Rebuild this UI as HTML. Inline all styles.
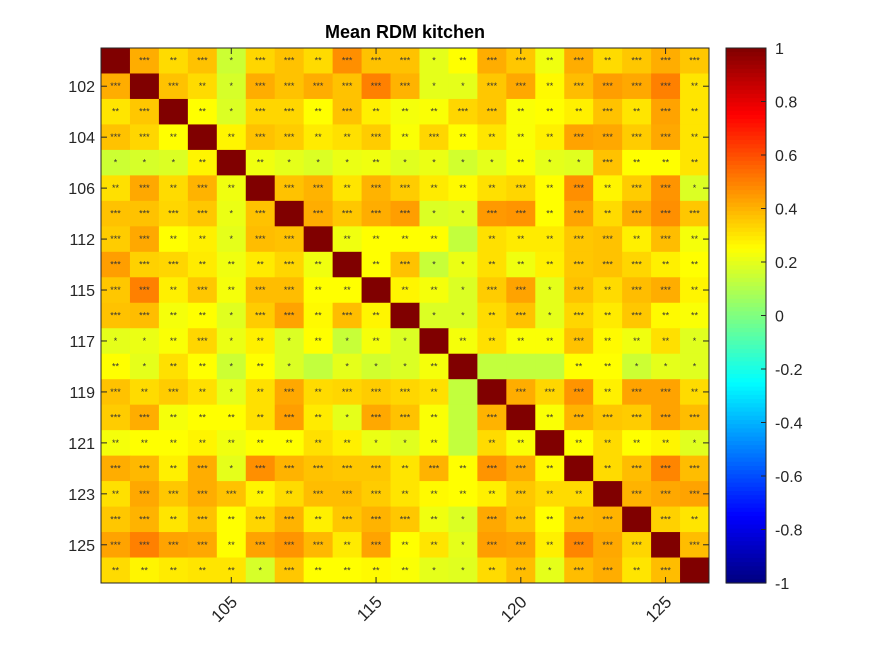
<!DOCTYPE html>
<html><head><meta charset="utf-8"><style>
body{margin:0;background:#fff;width:875px;height:656px;overflow:hidden}
svg{font-family:"Liberation Sans",sans-serif}
</style></head><body>
<svg id="c" width="875" height="656"></svg>
<script>
const labels=[101,102,103,104,105,106,107,112,113,115,116,117,118,119,120,121,122,123,124,125,126];
const yTickIdx=[1,3,5,7,9,11,13,15,17,19];
const xTickIdx=[4,9,14,19];
const cbTicks=[1,0.8,0.6,0.4,0.2,0,-0.2,-0.4,-0.6,-0.8,-1];
const r0=[1,.41,.32,.37,.15,.33,.37,.32,.47,.37,.37,.2,.25,.41,.36,.22,.41,.32,.36,.41,.36];
const r1=[.41,1,.37,.32,.17,.41,.37,.41,.37,.5,.4,.2,.2,.36,.42,.26,.38,.44,.42,.5,.3];
const r2=[.3,.36,1,.25,.18,.33,.33,.25,.37,.28,.23,.24,.33,.36,.24,.25,.28,.37,.3,.43,.3];
const r3=[.37,.33,.25,1,.27,.37,.35,.29,.31,.35,.24,.33,.25,.3,.24,.28,.43,.42,.35,.42,.3];
const r4=[.15,.17,.18,.27,1,.22,.2,.18,.21,.22,.19,.21,.16,.2,.24,.2,.19,.37,.25,.25,.3];
const r5=[.31,.42,.32,.4,.22,1,.37,.4,.3,.4,.35,.29,.26,.31,.33,.25,.47,.27,.35,.46,.18];
const r6=[.37,.37,.33,.36,.21,.37,1,.41,.36,.41,.44,.18,.19,.45,.46,.25,.43,.32,.41,.47,.36];
const r7=[.35,.42,.25,.28,.2,.38,.37,1,.22,.25,.25,.25,.13,.31,.29,.29,.36,.37,.28,.38,.23];
const r8=[.44,.34,.33,.29,.22,.29,.33,.22,1,.25,.37,.14,.21,.31,.22,.28,.36,.37,.33,.28,.25];
const r9=[.36,.5,.28,.36,.23,.38,.38,.25,.25,1,.27,.23,.18,.35,.43,.2,.37,.32,.38,.41,.27];
const r10=[.37,.38,.23,.25,.19,.35,.43,.26,.38,.27,1,.18,.18,.32,.37,.2,.33,.29,.36,.26,.24];
const r11=[.2,.21,.24,.33,.21,.28,.18,.25,.14,.23,.18,1,.23,.31,.24,.24,.37,.26,.22,.31,.19];
const r12=[.25,.2,.31,.25,.15,.25,.18,.13,.2,.16,.18,.23,1,.13,.13,.13,.25,.25,.15,.2,.19];
const r13=[.37,.32,.35,.31,.2,.31,.42,.32,.33,.35,.33,.31,.13,1,.41,.33,.46,.28,.43,.43,.32];
const r14=[.35,.41,.23,.25,.25,.31,.44,.29,.2,.42,.37,.24,.13,.4,1,.24,.4,.36,.35,.43,.38];
const r15=[.23,.25,.25,.27,.22,.25,.25,.31,.28,.21,.19,.24,.13,.32,.24,1,.25,.32,.25,.27,.19];
const r16=[.41,.39,.28,.41,.2,.47,.4,.37,.36,.36,.3,.4,.25,.46,.41,.26,1,.32,.38,.49,.38];
const r17=[.31,.42,.36,.41,.37,.27,.32,.38,.38,.35,.3,.26,.25,.28,.36,.32,.32,1,.4,.42,.43];
const r18=[.36,.4,.3,.37,.25,.33,.4,.28,.36,.4,.36,.22,.18,.42,.37,.25,.39,.4,1,.34,.3];
const r19=[.43,.5,.43,.42,.25,.43,.46,.39,.29,.43,.25,.3,.2,.44,.43,.28,.49,.42,.33,1,.38];
const r20=[.32,.27,.29,.3,.3,.17,.36,.25,.25,.26,.24,.2,.19,.32,.38,.2,.38,.41,.3,.38,1];
const values=[r0,r1,r2,r3,r4,r5,r6,r7,r8,r9,r10,r11,r12,r13,r14,r15,r16,r17,r18,r19,r20];

const NS="http://www.w3.org/2000/svg";
const svg=document.getElementById('c');
const X0=101,X1=709,Y0=48,Y1=583,n=labels.length;
const cw=(X1-X0)/n,ch=(Y1-Y0)/n;
const xPos=i=>X0+i*cw, yPos=i=>Y0+i*ch;
function cl(v){return Math.max(0,Math.min(1,v));}
function jet(v){const t=(v+1)/2;const r=cl(1.5-Math.abs(4*t-3)),g=cl(1.5-Math.abs(4*t-2)),b=cl(1.5-Math.abs(4*t-1));
return `rgb(${Math.round(r*255)},${Math.round(g*255)},${Math.round(b*255)})`;}
function mk(t,a,p){const e=document.createElementNS(NS,t);for(const k in a)e.setAttribute(k,a[k]);(p||svg).appendChild(e);return e;}

const g=mk('g',{});


values.forEach((row,i)=>row.forEach((v,j)=>{
  const r=mk('rect',{x:xPos(j),y:yPos(i),width:cw+0.5,height:ch+0.5,fill:jet(v)},g);
  
  
  if(i!==j){const s=v>=0.33?'***':v>=0.22?'**':v>=0.14?'*':'';
    if(s){const t=mk('text',{x:xPos(j)+cw/2,y:yPos(i)+ch/2+3,'font-size':'9','text-anchor':'middle',fill:'#333'},g);t.textContent=s;
    
    }}
}));
const fr=mk('rect',{x:X0,y:Y0,width:X1-X0,height:Y1-Y0,fill:'none',stroke:'#262626','stroke-width':1});


yTickIdx.forEach(i=>{const y=yPos(i)+ch/2;
  mk('line',{x1:X0,x2:X0+6,y1:y,y2:y,stroke:'#262626'});mk('line',{x1:X1,x2:X1-6,y1:y,y2:y,stroke:'#262626'});
  const t=mk('text',{x:X0-6,y:y+6,'font-size':'16','text-anchor':'end',fill:'#262626'});t.textContent=labels[i];
  
  });
xTickIdx.forEach(i=>{const x=xPos(i)+cw/2;
  mk('line',{x1:x,x2:x,y1:Y0,y2:Y0+6,stroke:'#262626'});mk('line',{x1:x,x2:x,y1:Y1,y2:Y1-6,stroke:'#262626'});
  const ax=x+7, ay=Y1+20;
  const t=mk('text',{x:ax,y:ay,'font-size':'17','text-anchor':'end',fill:'#262626',transform:`rotate(-45 ${ax} ${ay})`});t.textContent=labels[i];
  
  });
const title=mk('text',{x:405,y:38,'font-size':'18','font-weight':'bold','text-anchor':'middle',fill:'#000'});
title.textContent='Mean RDM kitchen';


// colorbar
const CX=726,CW=40;
const cg=mk('g',{});


const steps=128;
for(let k=0;k<steps;k++){const v=1-2*(k+0.5)/steps;
  mk('rect',{x:CX,y:Y0+k*(Y1-Y0)/steps,width:CW,height:(Y1-Y0)/steps+0.6,fill:jet(v)},cg);}
mk('rect',{x:CX,y:Y0,width:CW,height:Y1-Y0,fill:'none',stroke:'#262626'},cg);
const cy=v=>Y0+(1-v)/2*(Y1-Y0);
cbTicks.forEach(v=>{const y=cy(v);
  mk('line',{x1:CX+CW,x2:CX+CW-5,y1:y,y2:y,stroke:'#262626'},cg);
  const t=mk('text',{x:CX+CW+9,y:y+6,'font-size':'16',fill:'#262626'},cg);t.textContent=String(v);
  
  });
</script>
</body></html>
